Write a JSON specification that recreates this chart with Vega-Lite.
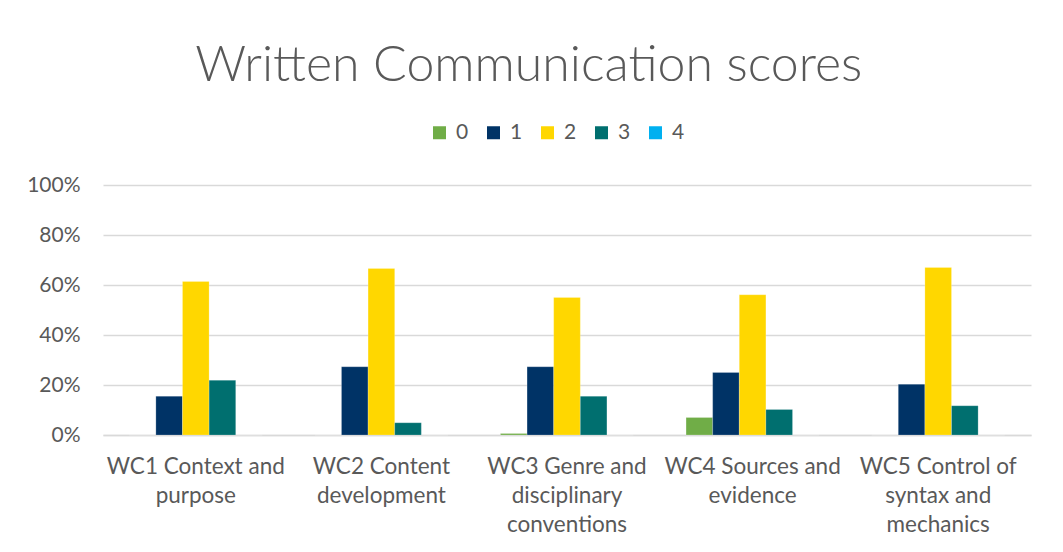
{
  "$schema": "https://vega.github.io/schema/vega-lite/v6.json",
  "width": 928,
  "height": 250,
  "autosize": {"type": "none"},
  "padding": {"left": 103, "top": 185, "right": 32, "bottom": 117},
  "background": "white",
  "title": {
    "text": "Written Communication scores",
    "font": "Lato",
    "fontWeight": 300,
    "fontSize": 50,
    "color": "#595959",
    "anchor": "middle",
    "frame": "bounds",
    "offset": 31
  },
  "data": {
    "values": [
      {"category": "WC1 Context and purpose", "score": "0", "pct": 0},
      {"category": "WC1 Context and purpose", "score": "1", "pct": 15.5},
      {"category": "WC1 Context and purpose", "score": "2", "pct": 61.4},
      {"category": "WC1 Context and purpose", "score": "3", "pct": 21.9},
      {"category": "WC1 Context and purpose", "score": "4", "pct": 0},
      {"category": "WC2 Content development", "score": "0", "pct": 0},
      {"category": "WC2 Content development", "score": "1", "pct": 27.3},
      {"category": "WC2 Content development", "score": "2", "pct": 66.6},
      {"category": "WC2 Content development", "score": "3", "pct": 4.9},
      {"category": "WC2 Content development", "score": "4", "pct": 0},
      {"category": "WC3 Genre and disciplinary conventions", "score": "0", "pct": 0.6},
      {"category": "WC3 Genre and disciplinary conventions", "score": "1", "pct": 27.3},
      {"category": "WC3 Genre and disciplinary conventions", "score": "2", "pct": 55.0},
      {"category": "WC3 Genre and disciplinary conventions", "score": "3", "pct": 15.5},
      {"category": "WC3 Genre and disciplinary conventions", "score": "4", "pct": 0},
      {"category": "WC4 Sources and evidence", "score": "0", "pct": 7.0},
      {"category": "WC4 Sources and evidence", "score": "1", "pct": 25.0},
      {"category": "WC4 Sources and evidence", "score": "2", "pct": 56.1},
      {"category": "WC4 Sources and evidence", "score": "3", "pct": 10.2},
      {"category": "WC4 Sources and evidence", "score": "4", "pct": 0},
      {"category": "WC5 Control of syntax and mechanics", "score": "0", "pct": 0},
      {"category": "WC5 Control of syntax and mechanics", "score": "1", "pct": 20.3},
      {"category": "WC5 Control of syntax and mechanics", "score": "2", "pct": 67.0},
      {"category": "WC5 Control of syntax and mechanics", "score": "3", "pct": 11.7},
      {"category": "WC5 Control of syntax and mechanics", "score": "4", "pct": 0}
    ]
  },
  "mark": {"type": "bar", "stroke": "#ffffff", "strokeOpacity": 0.4, "strokeWidth": 0.5},
  "encoding": {
    "x": {
      "field": "category",
      "type": "nominal",
      "sort": null,
      "title": null,
      "scale": {"paddingInner": 0.283, "paddingOuter": 0.1415},
      "axis": {
        "labelAngle": 0,
        "labelExpr": "datum.label == 'WC1 Context and purpose' ? ['WC1 Context and', 'purpose'] : datum.label == 'WC2 Content development' ? ['WC2 Content', 'development'] : datum.label == 'WC3 Genre and disciplinary conventions' ? ['WC3 Genre and', 'disciplinary', 'conventions'] : datum.label == 'WC4 Sources and evidence' ? ['WC4 Sources and', 'evidence'] : ['WC5 Control of', 'syntax and', 'mechanics']",
        "labelFont": "Lato",
        "labelFontSize": 22.5,
        "labelColor": "#595959",
        "labelLineHeight": 29,
        "labelLimit": 400,
        "labelPadding": 20,
        "labelBaseline": "top",
        "ticks": false,
        "domainColor": "#d9d9d9",
        "domainWidth": 1.5,
        "grid": false
      }
    },
    "xOffset": {"field": "score", "type": "nominal", "sort": ["0", "1", "2", "3", "4"]},
    "y": {
      "field": "pct",
      "type": "quantitative",
      "title": null,
      "scale": {"domain": [0, 100], "nice": false},
      "axis": {
        "values": [0, 20, 40, 60, 80, 100],
        "labelExpr": "datum.value + '%'",
        "labelFont": "Lato",
        "labelFontSize": 21,
        "labelColor": "#595959",
        "labelPadding": 23,
        "ticks": false,
        "domain": false,
        "gridColor": "#d9d9d9",
        "gridWidth": 1.5
      }
    },
    "color": {
      "field": "score",
      "type": "nominal",
      "sort": ["0", "1", "2", "3", "4"],
      "scale": {"domain": ["0", "1", "2", "3", "4"], "range": ["#70AD47", "#003366", "#FFD700", "#006F6F", "#00B0F0"]},
      "legend": {
        "title": null,
        "orient": "none",
        "legendX": 326,
        "legendY": -63,
        "direction": "horizontal",
        "symbolType": "square",
        "symbolSize": 169,
        "symbolStrokeWidth": 0,
        "labelFont": "Lato",
        "labelFontSize": 21,
        "labelColor": "#595959",
        "labelOffset": 6,
        "columnPadding": 14
      }
    }
  },
  "config": {"view": {"stroke": null}}
}
